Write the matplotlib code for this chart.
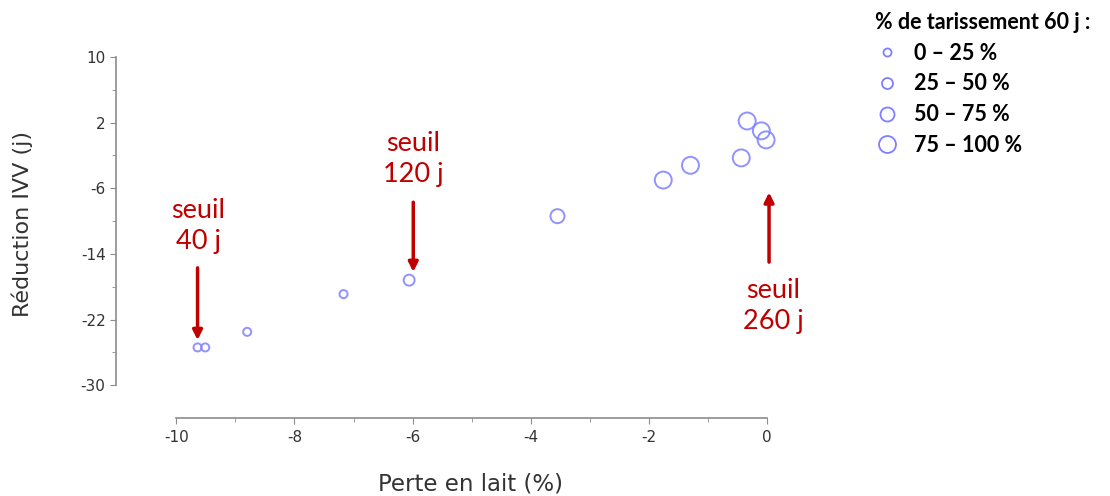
import matplotlib
matplotlib.use("Agg")
import matplotlib.pyplot as plt
from matplotlib.lines import Line2D

plt.rcParams["axes.unicode_minus"] = False

# data
perte_lait = [-9.64, -9.51, -8.80, -7.17, -6.06, -3.55, -1.76, -1.30, -0.44, -0.34, -0.10, -0.02]
reduction_ivv = [-25.4, -25.4, -23.5, -18.9, -17.2, -9.4, -5.0, -3.2, -2.3, 2.2, 1.0, -0.1]
classe = [0, 0, 0, 0, 1, 2, 3, 3, 3, 3, 3, 3]   # classe de tarissement 60 j
classes = ["0 – 25 %", "25 – 50 %", "50 – 75 %", "75 – 100 %"]
diam = [5.8, 7.9, 10.1, 12.2]   # marker diameter in points per class

seuils = ["seuil\n40 j", "seuil\n120 j", "seuil\n260 j"]
seuil_x = [-9.64, -5.99, 0.03]
fleche_de = [-15.7, -7.7, -15.0]
fleche_a = [-24.5, -16.2, -6.5]
texte_y = [-10.6, -2.4, -20.4]
texte_x = [-9.63, -5.99, 0.10]

bleu = "#7f7fff"
rouge = "#c00000"
gris = "#8c8c8c"

fig = plt.figure(figsize=(11.1, 4.96), dpi=100)
ax = fig.add_axes([116/1110, 1-418/496, (785-116)/1110, (418-57)/496])

sizes = [diam[c]**2 for c in classe]
ax.scatter(perte_lait, reduction_ivv, s=sizes, facecolors="none", edgecolors=bleu, linewidths=1.4, alpha=0.85, zorder=3)

ax.set_xlim(-11.02, 0.3)
ax.set_ylim(-34.0, 10)

for s in ["top", "right"]:
    ax.spines[s].set_visible(False)
ax.spines["left"].set_bounds(-30, 10)
ax.spines["bottom"].set_bounds(-10, 0)
for s in ["left", "bottom"]:
    ax.spines[s].set_color(gris)
    ax.spines[s].set_linewidth(1.2)

ax.set_xticks(range(-10, 1, 2))
ax.set_xticks(range(-9, 0, 2), minor=True)
ax.set_yticks(range(-30, 11, 8))
ax.set_yticks(range(-26, 10, 8), minor=True)
ax.tick_params(which="both", colors=gris, labelcolor="#333333", labelsize=11)
ax.tick_params(which="major", length=4)
ax.tick_params(which="minor", length=3)
ax.tick_params(axis="x", pad=5)

fig.text(22/1110, 1-224/496, "Réduction IVV (j)", rotation=90, ha="center", va="center", fontsize=16, color="#333333")
fig.text(471/1110, 1-484/496, "Perte en lait (%)", ha="center", va="center", fontsize=16.5, color="#333333")

# seuils
for lab, x, y0, y1, tx, ty in zip(seuils, seuil_x, fleche_de, fleche_a, texte_x, texte_y):
    ax.annotate("", xy=(x, y1), xytext=(x, y0),
                arrowprops=dict(arrowstyle="-|>", color=rouge, lw=2.5, mutation_scale=14, shrinkA=0, shrinkB=0))
    ax.text(tx, ty, lab, color=rouge, fontsize=19.5, family="Lato", ha="center", va="center", linespacing=1.3)

# legende
handles = [Line2D([], [], linestyle="none", marker="o", markersize=d, markerfacecolor="none",
                  markeredgecolor=bleu, markeredgewidth=1.3) for d in diam]
leg = fig.legend(handles, classes, loc="upper left", bbox_to_anchor=(860/1110, 1+3/496),
                 frameon=False, title="% de tarissement 60 j :", alignment="left",
                 prop={"family": "Lato", "weight": "bold", "size": 15.5},
                 title_fontproperties={"family": "Lato", "weight": "bold", "size": 15.5},
                 labelspacing=0.45, handletextpad=0.7, handlelength=1.1, borderpad=0.2)

fig.savefig("out.png", dpi=100)
